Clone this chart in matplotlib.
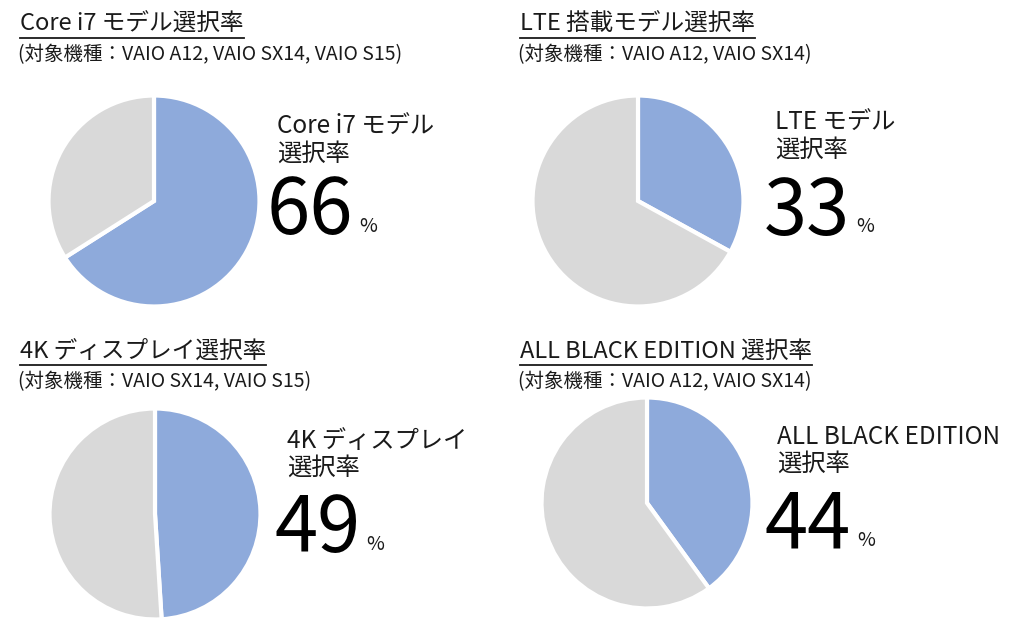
import matplotlib
matplotlib.use("Agg")
import matplotlib.pyplot as plt
from matplotlib.lines import Line2D

plt.rcParams['font.family'] = ['Noto Sans CJK JP', 'DejaVu Sans']

W, H = 1024, 633

# data
titles = ['Core i7 モデル選択率', 'LTE 搭載モデル選択率',
          '4K ディスプレイ選択率', 'ALL BLACK EDITION 選択率']
subtitles = ['(対象機種：VAIO A12, VAIO SX14, VAIO S15)',
             '(対象機種：VAIO A12, VAIO SX14)',
             '(対象機種：VAIO SX14, VAIO S15)',
             '(対象機種：VAIO A12, VAIO SX14)']
labels = ['Core i7 モデル', 'LTE モデル', '4K ディスプレイ', 'ALL BLACK EDITION']
pct_text = [66, 33, 49, 44]
pie_share = [66, 33, 49, 40]   # slice as drawn in the picture

blue = '#8eaadb'
grey = '#d9d9d9'
ink = '#1a1a1a'

# layout (pixels)
title_pos = [(20, 24), (520, 24), (20, 351), (520, 351)]
pie_pos = [(154, 201), (638, 201), (155, 514), (647, 503)]
label_pos = [(277, 127), (775, 123), (287, 441), (777, 437)]
num_pos = [(267, 212), (764, 213), (274, 530), (765, 527)]
R = 106

fig = plt.figure(figsize=(W / 100, H / 100), dpi=100)
fig.patch.set_facecolor('white')


def fx(x):
    return x / W


def fy(y):
    return 1 - y / H


renderer = fig.canvas.get_renderer()

for i in range(4):
    tx, ty = title_pos[i]
    t = fig.text(fx(tx), fy(ty), titles[i], fontsize=17, color=ink,
                 ha='left', va='center')
    bb = t.get_window_extent(renderer)
    fig.add_artist(Line2D([bb.x0 / W, bb.x1 / W], [fy(ty + 14)] * 2,
                          color=ink, lw=1.3, transform=fig.transFigure))
    fig.text(fx(tx - 2), fy(ty + 31), subtitles[i], fontsize=14,
             color=ink, ha='left', va='center')

    cx, cy = pie_pos[i]
    ax = fig.add_axes([fx(cx - R), fy(cy + R), 2 * R / W, 2 * R / H])
    ax.pie([pie_share[i], 100 - pie_share[i]], colors=[blue, grey],
           startangle=90, counterclock=False,
           wedgeprops=dict(edgecolor='white', linewidth=3))
    ax.set_xlim(-1.005, 1.005)
    ax.set_ylim(-1.005, 1.005)
    ax.axis('off')

    lx, ly = label_pos[i]
    fig.text(fx(lx), fy(ly), labels[i], fontsize=17.5, color=ink,
             ha='left', va='center')
    fig.text(fx(lx), fy(ly + 27), '選択率', fontsize=17.5, color=ink,
             ha='left', va='center')

    nx, ny = num_pos[i]
    n = fig.text(fx(nx), fy(ny), str(pct_text[i]), fontsize=56, color='black',
                 ha='left', va='center')
    nb = n.get_window_extent(renderer)
    fig.text(nb.x1 / W + 6 / W, fy(ny + 14), '%', fontsize=14, color=ink,
             ha='left', va='center')

fig.savefig('out.png', dpi=100, facecolor='white')
